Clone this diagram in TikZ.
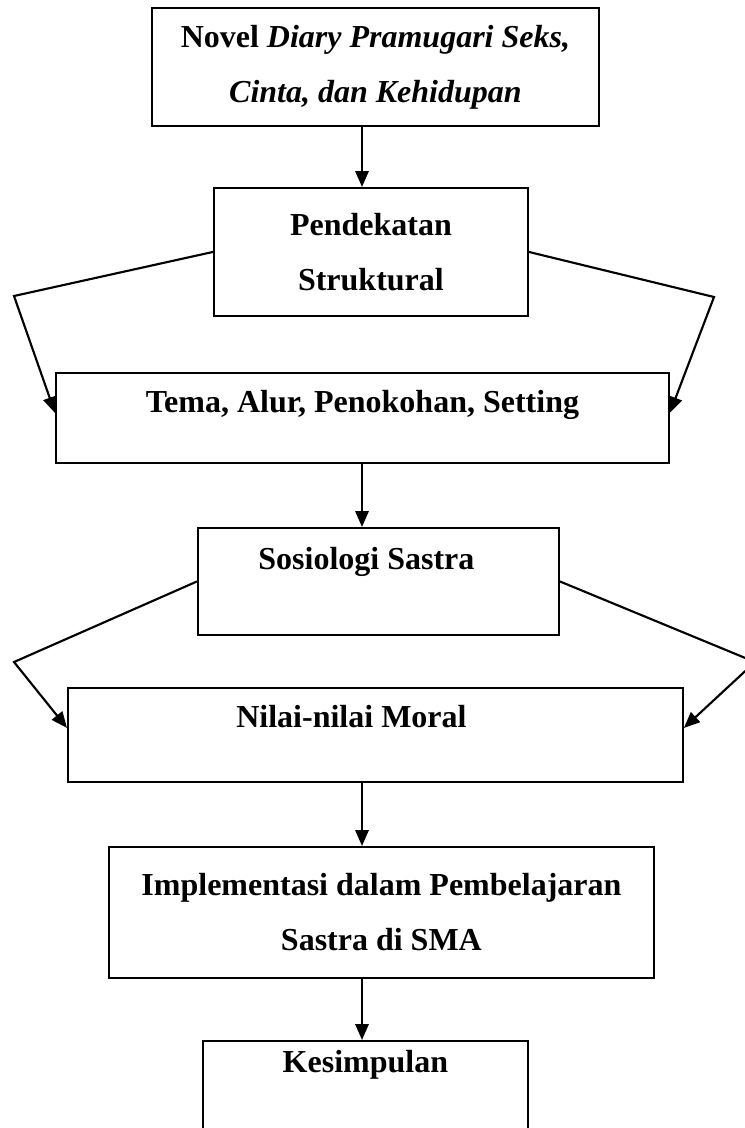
\documentclass[tikz,border=0pt]{standalone}
\usepackage{fontspec}
\setmainfont{Liberation Serif}
\usetikzlibrary{arrows.meta, positioning, calc}

\begin{document}
\begin{tikzpicture}[x=0.75pt, y=-0.75pt,
  every node/.style={align=center, font=\fontsize{24pt}{41.25pt}\selectfont\bfseries},
  box/.style={draw, line width=1.4pt, inner sep=0pt, anchor=north west},
  arr/.style={-{Triangle[length=12pt, width=10pt]}, line width=1.6pt}]
\useasboundingbox (0,0) rectangle (745,1128);

% Base nodes
\node (Novel) [box, minimum width=335.25pt, minimum height=88.5pt] at (151,7)
  {Novel \textit{Diary Pramugari Seks,}\\ \textit{Cinta, dan Kehidupan}};
\node (Pend) [box, minimum width=235.5pt, minimum height=96pt] at (213,187)
  {Pendekatan\\ Struktural};
\node (Tema) [box, minimum width=459.75pt, text height=30pt, text depth=37.5pt] at (55,372)
  {Tema, Alur, Penokohan, Setting};
\node (Sos) [box, minimum width=270.75pt, text height=31.5pt, text depth=48.75pt] at (197,527)
  {Sosiologi Sastra\hspace*{18pt}};
\node (Moral) [box, minimum width=461.25pt, text height=30pt, text depth=40.5pt] at (67,687)
  {Nilai-nilai Moral\hspace*{36pt}};
\node (Impl) [box, minimum width=408.75pt, minimum height=98.25pt] at (108,846)
  {Implementasi dalam Pembelajaran\\ Sastra di SMA};
\node (Simp) [box, minimum width=243.75pt, text height=24pt, text depth=56.25pt] at (202,1040)
  {Kesimpulan};

% Bends
\coordinate (axis) at (362,0);
\coordinate (PendL) at (14,296);
\coordinate (PendR) at (714,297);
\coordinate (SosL) at (14,662);
\coordinate (SosR) at (755,662);

% Arrows
\draw[arr] (Novel.south -| axis) -- (Pend.north -| axis);
\draw[arr] (Tema.south -| axis) -- (Sos.north -| axis);
\draw[arr] (Moral.south -| axis) -- (Impl.north -| axis);
\draw[arr] (Impl.south -| axis) -- (Simp.north -| axis);

% Side branches
\draw[arr] (Pend.west) -- (PendL) -- (Tema.base -| Tema.west);
\draw[arr] (Pend.east) -- (PendR) -- (Tema.base -| Tema.east);
\draw[arr] (Sos.west) -- (SosL) -- (Moral.base -| Moral.west);
\draw[arr] (Sos.east) -- (SosR) -- (Moral.base -| Moral.east);
\end{tikzpicture}
\end{document}
